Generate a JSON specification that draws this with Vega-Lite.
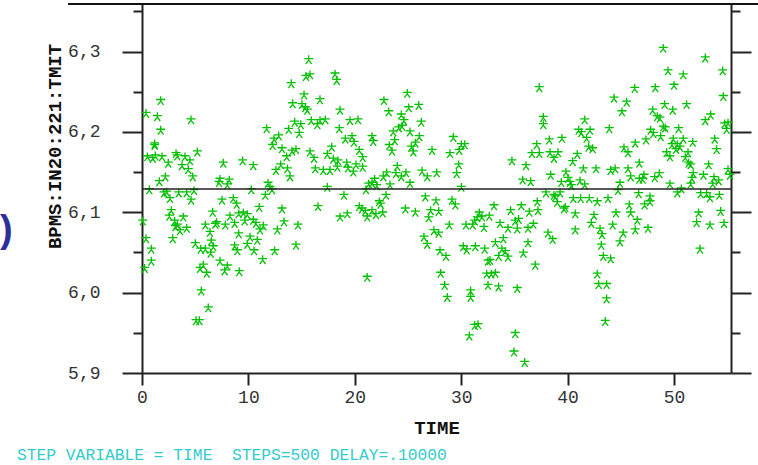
{
  "$schema": "https://vega.github.io/schema/vega-lite/v6.json",
  "width": 589,
  "height": 369,
  "autosize": {"type": "none"},
  "padding": {"left": 142, "top": 4, "right": 27, "bottom": 92},
  "background": "white",
  "config": {
    "view": {"stroke": null},
    "axis": {"grid": false, "domainColor": "#222", "domainWidth": 2, "tickColor": "#222", "tickWidth": 2, "labelFont": "Liberation Mono", "labelFontSize": 18, "labelColor": "#333", "titleFont": "Liberation Mono", "titleColor": "#111"}
  },
  "title": {"text": "STEP VARIABLE = TIME\u00a0\u00a0STEPS=500 DELAY=.10000", "orient": "bottom", "anchor": "start", "frame": "group", "font": "Liberation Mono", "fontSize": 16.3, "fontWeight": "normal", "color": "#33cccc", "dx": -125, "offset": 10},
  "datasets": {
    "pts": [
{"t":1.76,"v":6.239},{"t":0.38,"v":6.223},{"t":1.44,"v":6.219},{"t":4.61,"v":6.215},{"t":1.76,"v":6.202},{"t":1.19,"v":6.185},{"t":1.19,"v":6.183},{"t":0.50,"v":6.169},{"t":1.01,"v":6.167},{"t":1.25,"v":6.170},{"t":1.88,"v":6.169},{"t":2.47,"v":6.161},{"t":3.20,"v":6.173},{"t":3.32,"v":6.170},{"t":4.04,"v":6.169},{"t":4.51,"v":6.164},{"t":3.76,"v":6.158},{"t":5.20,"v":6.175},{"t":4.35,"v":6.153},{"t":4.77,"v":6.144},{"t":2.19,"v":6.144},{"t":1.63,"v":6.138},{"t":7.64,"v":6.161},{"t":7.33,"v":6.141},{"t":8.20,"v":6.140},{"t":8.02,"v":6.134},{"t":7.24,"v":6.137},{"t":0.69,"v":6.128},{"t":2.07,"v":6.124},{"t":2.32,"v":6.125},{"t":2.63,"v":6.117},{"t":3.45,"v":6.124},{"t":4.20,"v":6.124},{"t":4.89,"v":6.127},{"t":4.61,"v":6.115},{"t":7.52,"v":6.115},{"t":8.58,"v":6.117},{"t":8.90,"v":6.110},{"t":2.75,"v":6.102},{"t":2.57,"v":6.095},{"t":3.88,"v":6.094},{"t":3.07,"v":6.089},{"t":3.32,"v":6.084},{"t":3.13,"v":6.082},{"t":3.57,"v":6.077},{"t":4.20,"v":6.080},{"t":6.64,"v":6.100},{"t":5.95,"v":6.084},{"t":7.02,"v":6.087},{"t":6.89,"v":6.085},{"t":7.83,"v":6.084},{"t":8.27,"v":6.095},{"t":8.71,"v":6.086},{"t":9.09,"v":6.098},{"t":9.09,"v":6.073},{"t":6.39,"v":6.075},{"t":0.07,"v":6.089},{"t":0.38,"v":6.067},{"t":2.89,"v":6.067},{"t":0.87,"v":6.054},{"t":0.87,"v":6.039},{"t":0.25,"v":6.030},{"t":5.01,"v":6.061},{"t":5.52,"v":6.054},{"t":5.95,"v":6.054},{"t":6.51,"v":6.064},{"t":6.70,"v":6.057},{"t":6.46,"v":6.049},{"t":8.71,"v":6.058},{"t":8.96,"v":6.052},{"t":7.33,"v":6.039},{"t":8.02,"v":6.033},{"t":7.77,"v":6.027},{"t":5.76,"v":6.034},{"t":5.45,"v":6.030},{"t":6.08,"v":6.024},{"t":9.14,"v":6.026},{"t":5.57,"v":6.002},{"t":6.23,"v":5.981},{"t":5.08,"v":5.965},{"t":5.39,"v":5.965},
{"t":15.67,"v":6.290},{"t":15.41,"v":6.269},{"t":15.79,"v":6.271},{"t":18.14,"v":6.272},{"t":18.30,"v":6.264},{"t":14.03,"v":6.260},{"t":15.23,"v":6.246},{"t":16.73,"v":6.240},{"t":14.16,"v":6.235},{"t":15.04,"v":6.234},{"t":15.35,"v":6.230},{"t":15.54,"v":6.227},{"t":18.61,"v":6.227},{"t":14.35,"v":6.212},{"t":14.92,"v":6.209},{"t":15.91,"v":6.214},{"t":16.73,"v":6.214},{"t":17.23,"v":6.215},{"t":16.48,"v":6.209},{"t":11.72,"v":6.204},{"t":13.79,"v":6.203},{"t":14.78,"v":6.198},{"t":18.54,"v":6.204},{"t":12.85,"v":6.195},{"t":12.41,"v":6.191},{"t":12.28,"v":6.183},{"t":13.16,"v":6.179},{"t":14.47,"v":6.178},{"t":14.10,"v":6.176},{"t":13.60,"v":6.169},{"t":15.79,"v":6.175},{"t":16.17,"v":6.167},{"t":17.83,"v":6.181},{"t":17.42,"v":6.172},{"t":17.98,"v":6.166},{"t":18.42,"v":6.164},{"t":18.36,"v":6.156},{"t":9.46,"v":6.164},{"t":10.46,"v":6.158},{"t":13.04,"v":6.159},{"t":12.59,"v":6.152},{"t":13.66,"v":6.154},{"t":13.91,"v":6.144},{"t":16.29,"v":6.154},{"t":17.04,"v":6.152},{"t":17.67,"v":6.152},{"t":11.84,"v":6.136},{"t":12.03,"v":6.131},{"t":12.22,"v":6.128},{"t":11.59,"v":6.121},{"t":10.27,"v":6.128},{"t":17.42,"v":6.131},{"t":16.54,"v":6.107},{"t":18.61,"v":6.094},{"t":11.02,"v":6.106},{"t":13.16,"v":6.104},{"t":9.52,"v":6.099},{"t":9.90,"v":6.097},{"t":10.46,"v":6.090},{"t":9.65,"v":6.089},{"t":10.71,"v":6.086},{"t":11.40,"v":6.083},{"t":11.09,"v":6.078},{"t":13.35,"v":6.088},{"t":12.72,"v":6.078},{"t":14.66,"v":6.084},{"t":10.15,"v":6.069},{"t":10.84,"v":6.065},{"t":9.90,"v":6.060},{"t":10.53,"v":6.052},{"t":12.47,"v":6.052},{"t":14.47,"v":6.059},{"t":11.34,"v":6.041},
{"t":24.93,"v":6.248},{"t":22.74,"v":6.239},{"t":26.01,"v":6.233},{"t":25.07,"v":6.230},{"t":23.19,"v":6.225},{"t":24.37,"v":6.221},{"t":19.55,"v":6.214},{"t":20.30,"v":6.215},{"t":26.25,"v":6.212},{"t":24.62,"v":6.214},{"t":24.44,"v":6.207},{"t":24.13,"v":6.205},{"t":23.62,"v":6.200},{"t":25.19,"v":6.200},{"t":21.62,"v":6.194},{"t":21.74,"v":6.188},{"t":19.11,"v":6.191},{"t":19.74,"v":6.194},{"t":19.92,"v":6.187},{"t":26.06,"v":6.194},{"t":23.75,"v":6.189},{"t":23.24,"v":6.183},{"t":25.69,"v":6.186},{"t":25.31,"v":6.181},{"t":25.50,"v":6.175},{"t":23.50,"v":6.176},{"t":27.26,"v":6.177},{"t":20.42,"v":6.177},{"t":20.74,"v":6.168},{"t":19.24,"v":6.161},{"t":19.36,"v":6.155},{"t":19.86,"v":6.150},{"t":20.11,"v":6.159},{"t":20.74,"v":6.156},{"t":23.99,"v":6.157},{"t":23.87,"v":6.148},{"t":24.37,"v":6.144},{"t":24.81,"v":6.149},{"t":26.32,"v":6.151},{"t":26.81,"v":6.144},{"t":27.70,"v":6.149},{"t":23.00,"v":6.149},{"t":22.68,"v":6.144},{"t":21.87,"v":6.141},{"t":25.19,"v":6.136},{"t":23.31,"v":6.134},{"t":21.31,"v":6.135},{"t":21.62,"v":6.136},{"t":22.06,"v":6.133},{"t":21.05,"v":6.128},{"t":18.98,"v":6.121},{"t":22.93,"v":6.121},{"t":22.30,"v":6.113},{"t":22.43,"v":6.110},{"t":20.42,"v":6.107},{"t":20.68,"v":6.104},{"t":20.99,"v":6.101},{"t":21.62,"v":6.102},{"t":21.17,"v":6.094},{"t":21.99,"v":6.097},{"t":22.62,"v":6.099},{"t":19.30,"v":6.098},{"t":24.75,"v":6.104},{"t":25.69,"v":6.100},{"t":26.63,"v":6.119},{"t":27.63,"v":6.114},{"t":27.13,"v":6.102},{"t":26.95,"v":6.093},{"t":27.89,"v":6.101},{"t":26.50,"v":6.069},{"t":26.81,"v":6.060},{"t":27.44,"v":6.077},{"t":27.89,"v":6.074},{"t":28.01,"v":6.052},{"t":28.07,"v":6.024},{"t":21.17,"v":6.019},
{"t":37.34,"v":6.255},{"t":29.26,"v":6.193},{"t":30.01,"v":6.184},{"t":30.33,"v":6.184},{"t":28.95,"v":6.173},{"t":29.82,"v":6.177},{"t":37.10,"v":6.184},{"t":36.65,"v":6.173},{"t":37.34,"v":6.173},{"t":34.77,"v":6.164},{"t":36.09,"v":6.158},{"t":29.77,"v":6.159},{"t":29.58,"v":6.148},{"t":35.78,"v":6.140},{"t":36.53,"v":6.138},{"t":30.01,"v":6.131},{"t":29.14,"v":6.115},{"t":29.45,"v":6.109},{"t":33.08,"v":6.108},{"t":31.70,"v":6.099},{"t":31.51,"v":6.093},{"t":31.95,"v":6.094},{"t":31.27,"v":6.089},{"t":32.64,"v":6.095},{"t":34.65,"v":6.102},{"t":35.65,"v":6.108},{"t":36.40,"v":6.100},{"t":37.15,"v":6.113},{"t":37.22,"v":6.102},{"t":30.45,"v":6.084},{"t":31.08,"v":6.084},{"t":32.14,"v":6.081},{"t":33.65,"v":6.086},{"t":34.40,"v":6.080},{"t":35.08,"v":6.089},{"t":35.40,"v":6.091},{"t":35.27,"v":6.079},{"t":36.28,"v":6.080},{"t":36.78,"v":6.085},{"t":28.88,"v":6.084},{"t":33.96,"v":6.067},{"t":33.21,"v":6.062},{"t":33.83,"v":6.054},{"t":34.15,"v":6.051},{"t":34.40,"v":6.044},{"t":33.52,"v":6.045},{"t":32.71,"v":6.040},{"t":32.52,"v":6.039},{"t":32.21,"v":6.054},{"t":31.33,"v":6.057},{"t":30.20,"v":6.057},{"t":30.52,"v":6.053},{"t":28.57,"v":6.045},{"t":36.28,"v":6.062},{"t":35.84,"v":6.049},{"t":36.96,"v":6.034},{"t":32.40,"v":6.023},{"t":32.83,"v":6.023},{"t":33.21,"v":6.024},{"t":32.52,"v":6.009},{"t":33.52,"v":6.007},{"t":35.27,"v":6.005},{"t":28.45,"v":6.009},{"t":28.69,"v":5.994},{"t":30.89,"v":6.002},{"t":30.89,"v":5.994},{"t":31.27,"v":5.959},{"t":31.58,"v":5.960},{"t":30.76,"v":5.946},{"t":35.08,"v":5.949},{"t":34.96,"v":5.926},{"t":35.97,"v":5.913},
{"t":46.31,"v":6.254},{"t":44.36,"v":6.242},{"t":45.55,"v":6.237},{"t":45.11,"v":6.225},{"t":37.72,"v":6.218},{"t":37.72,"v":6.209},{"t":41.61,"v":6.215},{"t":43.92,"v":6.204},{"t":41.04,"v":6.202},{"t":42.11,"v":6.202},{"t":41.29,"v":6.199},{"t":41.79,"v":6.192},{"t":39.47,"v":6.192},{"t":38.28,"v":6.190},{"t":46.36,"v":6.186},{"t":41.98,"v":6.181},{"t":42.36,"v":6.179},{"t":45.30,"v":6.180},{"t":45.68,"v":6.174},{"t":38.35,"v":6.174},{"t":39.10,"v":6.174},{"t":38.72,"v":6.167},{"t":40.91,"v":6.172},{"t":40.48,"v":6.163},{"t":46.74,"v":6.161},{"t":38.41,"v":6.146},{"t":39.85,"v":6.150},{"t":41.48,"v":6.154},{"t":42.67,"v":6.154},{"t":44.05,"v":6.152},{"t":44.48,"v":6.154},{"t":45.68,"v":6.154},{"t":45.93,"v":6.144},{"t":46.74,"v":6.141},{"t":40.04,"v":6.142},{"t":40.23,"v":6.137},{"t":39.41,"v":6.137},{"t":40.35,"v":6.133},{"t":41.17,"v":6.139},{"t":41.61,"v":6.134},{"t":44.92,"v":6.136},{"t":44.74,"v":6.127},{"t":37.97,"v":6.124},{"t":39.29,"v":6.124},{"t":38.72,"v":6.121},{"t":38.84,"v":6.119},{"t":39.03,"v":6.112},{"t":39.78,"v":6.106},{"t":39.66,"v":6.104},{"t":40.54,"v":6.117},{"t":41.23,"v":6.117},{"t":42.04,"v":6.117},{"t":42.79,"v":6.113},{"t":43.80,"v":6.117},{"t":46.68,"v":6.123},{"t":45.80,"v":6.109},{"t":45.93,"v":6.099},{"t":44.55,"v":6.099},{"t":40.72,"v":6.098},{"t":42.48,"v":6.096},{"t":42.23,"v":6.086},{"t":44.24,"v":6.084},{"t":43.05,"v":6.079},{"t":43.23,"v":6.072},{"t":46.55,"v":6.090},{"t":46.36,"v":6.078},{"t":45.23,"v":6.074},{"t":44.92,"v":6.063},{"t":40.72,"v":6.078},{"t":38.16,"v":6.074},{"t":38.60,"v":6.066},{"t":43.17,"v":6.059},{"t":43.36,"v":6.045},{"t":44.05,"v":6.042},{"t":42.79,"v":6.023},{"t":42.92,"v":6.010},{"t":43.67,"v":6.010},{"t":43.67,"v":5.992},{"t":43.54,"v":5.964},
{"t":48.99,"v":6.304},{"t":52.94,"v":6.292},{"t":54.58,"v":6.276},{"t":49.44,"v":6.276},{"t":50.87,"v":6.271},{"t":50.00,"v":6.258},{"t":48.24,"v":6.255},{"t":54.64,"v":6.244},{"t":49.12,"v":6.234},{"t":51.19,"v":6.234},{"t":48.00,"v":6.227},{"t":49.88,"v":6.227},{"t":53.45,"v":6.221},{"t":52.94,"v":6.214},{"t":48.43,"v":6.219},{"t":48.68,"v":6.217},{"t":54.76,"v":6.210},{"t":55.08,"v":6.211},{"t":54.95,"v":6.203},{"t":48.99,"v":6.206},{"t":49.18,"v":6.205},{"t":50.44,"v":6.204},{"t":47.81,"v":6.202},{"t":48.06,"v":6.198},{"t":48.75,"v":6.194},{"t":47.37,"v":6.190},{"t":53.83,"v":6.191},{"t":49.93,"v":6.191},{"t":50.87,"v":6.191},{"t":51.76,"v":6.187},{"t":49.81,"v":6.184},{"t":50.31,"v":6.184},{"t":50.56,"v":6.181},{"t":50.19,"v":6.178},{"t":54.01,"v":6.178},{"t":49.31,"v":6.174},{"t":49.62,"v":6.169},{"t":51.32,"v":6.174},{"t":51.06,"v":6.168},{"t":51.38,"v":6.161},{"t":51.57,"v":6.159},{"t":53.26,"v":6.159},{"t":55.08,"v":6.153},{"t":55.26,"v":6.146},{"t":51.81,"v":6.148},{"t":52.77,"v":6.146},{"t":53.76,"v":6.143},{"t":54.20,"v":6.139},{"t":53.64,"v":6.135},{"t":51.69,"v":6.142},{"t":51.57,"v":6.135},{"t":47.18,"v":6.146},{"t":47.06,"v":6.141},{"t":48.19,"v":6.143},{"t":48.62,"v":6.148},{"t":49.62,"v":6.135},{"t":50.69,"v":6.129},{"t":50.31,"v":6.124},{"t":52.51,"v":6.123},{"t":53.07,"v":6.123},{"t":53.38,"v":6.118},{"t":54.26,"v":6.121},{"t":47.74,"v":6.119},{"t":47.74,"v":6.113},{"t":47.24,"v":6.109},{"t":54.39,"v":6.101},{"t":52.32,"v":6.099},{"t":52.13,"v":6.087},{"t":53.38,"v":6.084},{"t":54.70,"v":6.086},{"t":47.56,"v":6.080},{"t":52.44,"v":6.054}
    ]
  },
  "layer": [
    {
      "data": {"name": "pts"},
      "mark": {"type": "point", "shape": "M0,-1V0.1M-1,-0.25H1M0,0.1L-0.65,0.95M0,0.1L0.65,0.95", "filled": false, "size": 81, "stroke": "#00c000", "strokeWidth": 1.3, "opacity": 1},
      "encoding": {
        "x": {"field": "t", "type": "quantitative", "scale": {"domain": [0, 55.36], "nice": false, "zero": false},
          "axis": {"orient": "bottom", "values": [0, 10, 20, 30, 40, 50], "tickSize": 12, "labelPadding": 3, "labelFlush": false, "title": "TIME", "titleFontSize": 19, "titleFontWeight": "bold", "titleY": 60, "titleBaseline": "alphabetic"}},
        "y": {"field": "v", "type": "quantitative", "scale": {"domain": [5.9, 6.3593], "nice": false, "zero": false},
          "axis": {"orient": "left", "values": [5.9, 5.95, 6, 6.05, 6.1, 6.15, 6.2, 6.25, 6.3, 6.35],
            "tickSize": {"condition": {"test": "abs(datum.value*10 - round(datum.value*10)) < 0.001", "value": 20}, "value": 9},
            "labelExpr": "abs(datum.value*10 - round(datum.value*10)) < 0.001 ? replace(format(datum.value, '.1f'), '.', ',') : ''",
            "labelPadding": 22, "labelFlush": false, "labelOverlap": false,
            "title": "BPMS:IN20:221:TMIT", "titleFontSize": 19, "titleFontWeight": "bold", "titleX": -82, "titleY": 142, "titleBaseline": "alphabetic", "titleAngle": -90}}
      }
    },
    {
      "data": {"values": [{"v": 6.129}]},
      "mark": {"type": "rule", "color": "#222", "strokeWidth": 1.6},
      "encoding": {
        "y": {"field": "v", "type": "quantitative", "scale": {"domain": [5.9, 6.3593], "nice": false, "zero": false},
          "axis": {"orient": "right", "values": [5.9, 5.95, 6, 6.05, 6.1, 6.15, 6.2, 6.25, 6.3, 6.35],
            "tickSize": {"condition": {"test": "abs(datum.value*10 - round(datum.value*10)) < 0.001", "value": 20}, "value": 9},
            "labels": false, "title": null}}
      }
    },
    {
      "data": {"values": [{"t": -6.95, "t2": 57.9, "v": 6.3593}]},
      "mark": {"type": "rule", "color": "#111", "strokeWidth": 2},
      "encoding": {
        "x": {"field": "t", "type": "quantitative", "scale": {"domain": [0, 55.36], "nice": false, "zero": false}, "axis": null},
        "x2": {"field": "t2"},
        "y": {"field": "v", "type": "quantitative", "scale": {"domain": [5.9, 6.3593], "nice": false, "zero": false}, "axis": null}
      }
    },
    {
      "data": {"values": [{"t": -12.75, "v": 6.077, "s": ")"}]},
      "mark": {"type": "text", "font": "Liberation Sans", "fontSize": 38, "fontWeight": "bold", "color": "#2e2e9a", "align": "center", "baseline": "middle"},
      "encoding": {
        "x": {"field": "t", "type": "quantitative", "scale": {"domain": [0, 55.36], "nice": false, "zero": false}, "axis": null},
        "y": {"field": "v", "type": "quantitative", "scale": {"domain": [5.9, 6.3593], "nice": false, "zero": false}, "axis": null},
        "text": {"field": "s"}
      }
    }
  ],
  "resolve": {"axis": {"x": "independent", "y": "independent"}}
}
